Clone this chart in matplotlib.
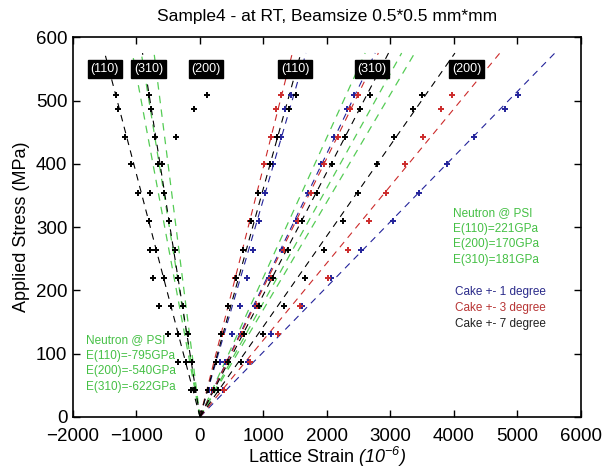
import matplotlib
matplotlib.use('Agg')
import matplotlib.pyplot as plt

plt.rcParams['font.family'] = ['Liberation Sans', 'DejaVu Sans']
plt.rcParams['mathtext.fontset'] = 'custom'
plt.rcParams['mathtext.it'] = 'Liberation Sans:italic'
plt.rcParams['mathtext.rm'] = 'Liberation Sans:italic'
plt.rcParams['mathtext.default'] = 'rm'

# applied stress levels (MPa)
stress = [43, 87, 131, 175, 220, 264, 310, 354, 399, 443, 487, 509]

# axial lattice strain (1e-6), peaks (110), (310), (200)
blue_110 = [150, 315, 499, 630, 735, 840, 934, 1024, 1155, 1276, 1339, 1433]
red_110 = [121, 247, 341, 446, 551, 672, 787, 908, 1013, 1118, 1197, 1276]
black_110 = [131, 247, 331, 446, 562, 682, 803, 919, 1102, 1207, 1407, 1507]

blue_310 = [190, 394, 640, 866, 1087, 1297, 1512, 1706, 1906, 2116, 2320, 2431]
red_310 = [200, 420, 660, 903, 1118, 1328, 1538, 1743, 1958, 2168, 2362, 2494]
black_310 = [215, 440, 698, 934, 1144, 1381, 1601, 1837, 2074, 2284, 2520, 2677]

blue_200 = [367, 761, 1118, 1610, 2060, 2530, 3034, 3455, 3896, 4321, 4803, 5013]
red_200 = [383, 787, 1234, 1580, 2010, 2336, 2662, 2930, 3229, 3507, 3797, 3964]
black_200 = [289, 646, 987, 1323, 1654, 1958, 2247, 2494, 2782, 3055, 3349, 3502]

# transverse lattice strain (cake +- 7 degree)
trans_110 = [-100, -220, -341, -457, -562, -699, -810, -969, -1085, -1181, -1296, -1328]
trans_310 = [-79, -131, -194, -273, -346, -394, -492, -572, -592, -709, -772, -803]
trans_200 = [-142, -341, -499, -651, -745, -794, -805, -794, -661, -378, -90, 105]

# linear fits: strain at fit_top, order (110), (310), (200)
fit_top = 575
fit_blue = [1670, 2760, 5590]
fit_red = [1455, 2810, 4724]
fit_black = [1590, 2970, 4016]
fit_trans = [-1500, -905]  # (110), (310)

# neutron moduli (GPa), order (110), (200), (310)
E_axial = [221, 170, 181]
E_trans = [-795, -540, -622]

peak_labels = ['(110)', '(310)', '(200)', '(110)', '(310)', '(200)']
peak_label_x = [-1500, -810, 95, 1500, 2710, 4200]

BLUE = '#23239a'
RED = '#cc2b2b'
BLACK = '#000000'
GREEN = '#55cc55'

fig = plt.figure(figsize=(6.16, 4.70), dpi=100)
ax = fig.add_axes([0.1185, 0.1128, 0.8245, 0.808])

dash = (6, 5)
for E in E_axial + E_trans:
    ax.plot([0, fit_top / E * 1000], [0, fit_top], color=GREEN, lw=0.9, dashes=dash)

for col, fits in [(BLUE, fit_blue), (RED, fit_red), (BLACK, fit_black)]:
    for f in fits:
        ax.plot([0, f], [0, fit_top], color=col, lw=0.8, dashes=dash)
for f in fit_trans:
    ax.plot([0, f], [0, fit_top], color=BLACK, lw=0.8, dashes=dash)

series = [(blue_110, BLUE), (red_110, RED), (black_110, BLACK),
          (blue_310, BLUE), (red_310, RED), (black_310, BLACK),
          (blue_200, BLUE), (red_200, RED), (black_200, BLACK),
          (trans_110, BLACK), (trans_310, BLACK), (trans_200, BLACK)]
for vals, col in series:
    ax.plot(vals, stress, ls='none', marker='+', ms=4, mew=1.4, color=col)

for lab, x in zip(peak_labels, peak_label_x):
    ax.text(x, 550, lab, color='white', fontsize=9, ha='center', va='center',
            bbox=dict(boxstyle='square,pad=0.22', fc='black', ec='black'))

right_green = ['Neutron @ PSI', 'E(110)=221GPa', 'E(200)=170GPa', 'E(310)=181GPa']
for i, s in enumerate(right_green):
    ax.text(3984, 322 - 24.5 * i, s, color='#45c045', fontsize=8.5, va='center')
left_green = ['Neutron @ PSI', 'E(110)=-795GPa', 'E(200)=-540GPa', 'E(310)=-622GPa']
for i, s in enumerate(left_green):
    ax.text(-1795, 122 - 25 * i, s, color='#45c045', fontsize=8.5, va='center')
cake = [('Cake +- 1 degree', '#2a2a8a'), ('Cake +- 3 degree', '#b83535'),
        ('Cake +- 7 degree', '#222222')]
for i, (s, c) in enumerate(cake):
    ax.text(4016, 197 - 25 * i, s, color=c, fontsize=8.5, va='center')

ax.set_xlim(-2000, 6000)
ax.set_ylim(0, 600)
ax.set_xticks(range(-2000, 6001, 1000))
ax.set_yticks(range(0, 601, 100))
ax.tick_params(direction='in', top=True, right=True, length=5, width=1,
               labelsize=13.5)
ax.tick_params(axis='x', pad=8)
ax.tick_params(axis='y', pad=4)
for sp in ax.spines.values():
    sp.set_linewidth(1.2)
ax.set_xlabel(r'Lattice Strain $(10^{-6})$', fontsize=13, labelpad=0)
ax.set_ylabel('Applied Stress (MPa)', fontsize=13, labelpad=4)
ax.set_title('Sample4 - at RT, Beamsize 0.5*0.5 mm*mm', fontsize=12.5, pad=12)

fig.savefig('out.png', dpi=100)
